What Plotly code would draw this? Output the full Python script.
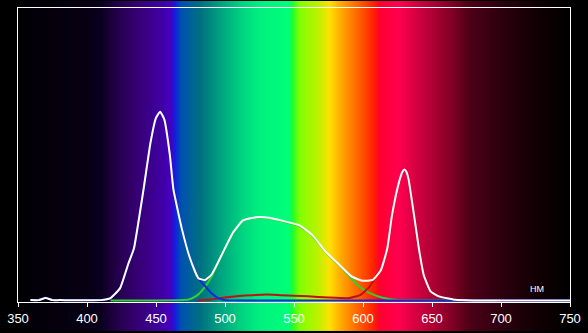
import plotly.graph_objects as go

# ---- data ----
white_wl = [359, 365, 370, 375, 380, 410, 417, 424, 430, 434, 441, 446, 450, 453, 456, 460, 462.6,
            468.7, 474.7, 480.7, 485.5, 490, 494, 501, 506, 513, 522.7, 532, 544, 554, 563.5, 573,
            583, 592, 599.6, 607, 613, 617.6, 621, 626, 628.5, 630, 631.5, 633, 637, 640.5, 644, 649,
            655, 667, 680, 750]
white_val = [0.003, 0.003, 0.01, 0.003, 0.003, 0.003, 0.01, 0.044, 0.128, 0.179, 0.382, 0.54, 0.625,
             0.646, 0.62, 0.50, 0.382, 0.247, 0.145, 0.078, 0.072, 0.088, 0.123, 0.190, 0.235, 0.275,
             0.286, 0.284, 0.271, 0.258, 0.224, 0.168, 0.123, 0.083, 0.069, 0.072, 0.106, 0.179,
             0.292, 0.404, 0.44, 0.449, 0.44, 0.416, 0.292, 0.179, 0.089, 0.033, 0.016, 0.004, 0.002,
             0.002]

blue_wl = [359, 365, 370, 375, 380, 410, 417, 424, 430, 434, 441, 446, 450, 453, 456, 460, 462.6,
           468.7, 474.7, 480.7, 485, 490, 495, 500, 550, 650, 750]
blue_val = [0.003, 0.003, 0.012, 0.003, 0.003, 0.003, 0.01, 0.044, 0.128, 0.179, 0.382, 0.54, 0.625,
            0.646, 0.62, 0.50, 0.382, 0.247, 0.145, 0.078, 0.054, 0.027, 0.010, 0.003, 0.002, 0.002,
            0.002]

green_wl = [417, 450, 470, 475, 480, 485, 490, 494, 501, 506, 513, 522.7, 532, 544, 554, 563.5, 573,
            583, 590, 597, 605, 615, 625, 700]
green_val = [0.002, 0.002, 0.003, 0.007, 0.02, 0.045, 0.08, 0.12, 0.188, 0.233, 0.273, 0.284, 0.282,
             0.269, 0.256, 0.222, 0.166, 0.121, 0.085, 0.05, 0.027, 0.01, 0.003, 0.002]

red_wl = [480, 490, 500, 510, 520, 530, 540, 550, 560, 575, 590, 598, 605, 610, 613, 617.6, 621, 626,
          628.5, 630, 631.5, 633, 637, 640.5, 644, 649, 655, 667, 700]
red_val = [0.002, 0.005, 0.012, 0.017, 0.02, 0.022, 0.02, 0.018, 0.016, 0.012, 0.01, 0.02, 0.05, 0.09,
           0.104, 0.177, 0.29, 0.402, 0.438, 0.447, 0.438, 0.414, 0.29, 0.177, 0.087, 0.031, 0.014,
           0.003, 0.002]

# background spectrum colour stops
stop_wl = [338, 400, 410, 424, 438, 453, 461, 464, 468, 482, 496, 511, 525, 546, 549, 554, 568, 576,
           583, 597, 608, 612, 626, 640, 655, 669, 676, 698, 727, 750, 762]
stop_col = ["000000", "080014", "0a0020", "280050", "380078", "4000a0", "4400c0", "1020e0", "0050b0",
            "007080", "00a080", "00d080", "00f080", "00ff78", "20ff30", "80ff00", "c0f000", "ffe000",
            "ffb000", "ff6000", "ff2000", "ff0030", "ff0050", "d00040", "a00030", "700020", "500018",
            "300010", "100005", "000000", "000000"]

tick_vals = [350, 400, 450, 500, 550, 600, 650, 700, 750]
unit_label = "НМ"


def hex2rgb(h):
    return tuple(int(h[i:i + 2], 16) for i in (0, 2, 4))


def colour_at(w):
    for i in range(len(stop_wl) - 1):
        if stop_wl[i] <= w <= stop_wl[i + 1]:
            t = (w - stop_wl[i]) / (stop_wl[i + 1] - stop_wl[i])
            a, b = hex2rgb(stop_col[i]), hex2rgb(stop_col[i + 1])
            c = [round(a[k] + (b[k] - a[k]) * t) for k in range(3)]
            return "rgb(%d,%d,%d)" % tuple(c)
    return "rgb(0,0,0)"


H_PLOT = 297.0
shapes = []
for w in range(338, 763):
    shapes.append(dict(type="rect", xref="x", yref="paper", x0=w - 0.5, x1=w + 2.0,
                       y0=-29 / H_PLOT, y1=1 + 7 / H_PLOT, fillcolor=colour_at(w),
                       line=dict(width=0), layer="below"))

line_shape = dict(shape="spline", smoothing=0.4)
fig = go.Figure()
fig.add_trace(go.Scatter(x=green_wl, y=green_val, mode="lines",
                         line=dict(color="#30d030", width=2, **line_shape)))
fig.add_trace(go.Scatter(x=red_wl, y=red_val, mode="lines",
                         line=dict(color="#c01010", width=2, **line_shape)))
fig.add_trace(go.Scatter(x=blue_wl, y=blue_val, mode="lines",
                         line=dict(color="#1028e0", width=2, **line_shape)))
fig.add_trace(go.Scatter(x=white_wl, y=white_val, mode="lines",
                         line=dict(color="#ffffff", width=2, **line_shape)))

fig.update_layout(
    width=588, height=333,
    margin=dict(l=17, r=16, t=7, b=29),
    paper_bgcolor="black", plot_bgcolor="rgba(0,0,0,0)",
    showlegend=False,
    shapes=shapes,
    xaxis=dict(range=[350, 750], tickvals=tick_vals, showgrid=False, zeroline=False,
               showline=True, linecolor="white", linewidth=1, mirror=True,
               ticks="outside", ticklen=4, tickcolor="white",
               tickfont=dict(color="white", size=13, family="Liberation Sans")),
    yaxis=dict(range=[-0.0034, 1.0], showgrid=False, zeroline=False, showticklabels=False,
               showline=True, linecolor="white", linewidth=1, mirror=True, ticks=""),
    annotations=[dict(x=726, y=0.02, xref="x", yref="paper", text=unit_label, showarrow=False,
                      font=dict(color="white", size=9, family="Liberation Sans"))],
)

fig.write_html("out.html")
